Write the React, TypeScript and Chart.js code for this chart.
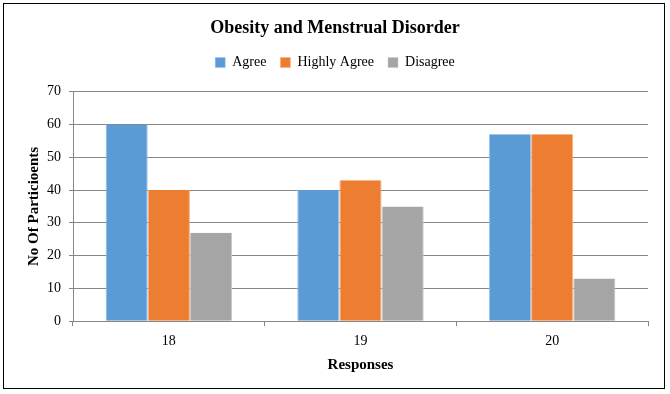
import React, { useEffect, useRef } from "react";
import { Chart, registerables } from "chart.js";

Chart.register(...registerables);

const categories = ["18", "19", "20"];
const agree = [60, 40, 57];
const highlyAgree = [40, 43, 57];
const disagree = [27, 35, 13];
const yTicks = [0, 10, 20, 30, 40, 50, 60, 70];

const FONT = "'Liberation Serif', 'Times New Roman', serif";

const legendMargin = {
  id: "legendMargin",
  beforeInit(chart: any) {
    const orig = chart.legend.fit;
    chart.legend.fit = function () {
      orig.bind(this)();
      this.height += 12;
    };
  },
};

export default function App() {
  const ref = useRef<HTMLCanvasElement>(null);
  useEffect(() => {
    document.body.style.margin = "0";
    const ctx = ref.current!;
    const edge = { left: 1, right: 1, top: 0, bottom: 0 } as any;
    const chart = new Chart(ctx, {
      type: "bar",
      data: {
        labels: categories,
        datasets: [
          { label: "Agree", data: agree, backgroundColor: "#5B9BD5", borderColor: "#9DC3E6", borderWidth: edge },
          { label: "Highly Agree", data: highlyAgree, backgroundColor: "#ED7D31", borderColor: "#F4B183", borderWidth: edge },
          { label: "Disagree", data: disagree, backgroundColor: "#A5A5A5", borderColor: "#C9C9C9", borderWidth: edge },
        ],
      },
      plugins: [legendMargin],
      options: {
        responsive: false,
        animation: false,
        layout: { padding: { left: 22, right: 22, top: 12, bottom: 20 } },
        datasets: { bar: { categoryPercentage: 0.66, barPercentage: 1 } },
        plugins: {
          title: {
            display: true,
            text: "Obesity and Menstrual Disorder",
            color: "#000",
            font: { family: FONT, size: 18, weight: "bold" },
            padding: { top: 6, bottom: 2 },
          },
          legend: {
            display: true,
            labels: {
              color: "#000",
              boxWidth: 10,
              boxHeight: 10,
              padding: 14,
              font: { family: FONT, size: 14 },
            },
          },
          tooltip: { enabled: false },
        },
        scales: {
          x: {
            grid: {
              offset: true,
              drawOnChartArea: false,
              drawTicks: true,
              tickLength: 5,
              color: "#868686",
            },
            border: { color: "#868686", width: 1 },
            ticks: { color: "#000", font: { family: FONT, size: 14 }, padding: 7 },
            title: {
              display: true,
              text: "Responses",
              color: "#000",
              font: { family: FONT, size: 15, weight: "bold" },
              padding: { top: -1, bottom: 0 },
            },
          },
          y: {
            min: 0,
            max: 70,
            afterBuildTicks: (axis: any) => {
              axis.ticks = yTicks.map((v) => ({ value: v }));
            },
            grid: { color: "#868686", tickLength: 4 },
            border: { color: "#868686", width: 1 },
            ticks: { color: "#000", font: { family: FONT, size: 14 }, padding: 8 },
            title: {
              display: true,
              text: "No Of Particioents",
              color: "#000",
              font: { family: FONT, size: 15, weight: "bold" },
              padding: { top: 3, bottom: -4 },
            },
          },
        },
      },
    });
    return () => chart.destroy();
  }, []);
  return (
    <div style={{ position: "fixed", left: 0, top: 0, width: 670, height: 394, background: "#fff" }}>
      <canvas ref={ref} width={670} height={394} style={{ position: "absolute", left: 0, top: 0 }} />
      <div
        style={{
          position: "absolute",
          left: 3,
          top: 3,
          width: 662,
          height: 386,
          border: "1.5px solid #000",
          boxSizing: "border-box",
          pointerEvents: "none",
        }}
      />
    </div>
  );
}
